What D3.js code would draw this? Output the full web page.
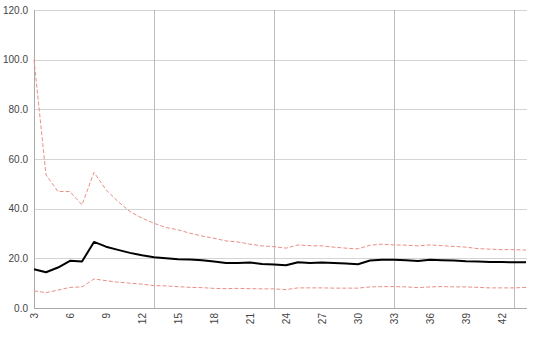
<!DOCTYPE html>
<html>
<head>
<meta charset="utf-8">
<script src="https://cdn.jsdelivr.net/npm/d3@7"></script>
<style>
  body { margin: 0; background: #fff; }
  #chart text { font-family: "Liberation Sans", Arial, sans-serif; font-size: 10px; fill: #444; }
</style>
</head>
<body>
<div id="chart"></div>
<script>
// categories 3..44
const categories = [3,4,5,6,7,8,9,10,11,12,13,14,15,16,17,18,19,20,21,22,23,24,25,26,27,28,29,30,31,32,33,34,35,36,37,38,39,40,41,42,43,44];

// mean (black line)
const meanValues = [15.6,14.4,16.3,19.0,18.7,26.6,24.7,23.4,22.2,21.2,20.4,20.0,19.6,19.5,19.2,18.7,18.1,18.1,
  18.3,17.7,17.5,17.2,18.4,18.1,18.3,18.1,17.9,17.6,19.1,19.4,19.4,19.2,18.9,19.4,19.2,19.1,18.8,18.7,18.5,18.5,18.4,18.4];

// upper bound (red dashed)
const upperValues = [100.0,53.6,46.9,46.9,41.5,54.6,47.6,42.9,38.8,36.2,34.1,32.4,31.5,30.1,29.0,28.1,27.0,26.6,
  25.7,25.0,24.7,24.1,25.4,25.1,25.0,24.5,24.1,23.8,25.3,25.7,25.4,25.3,25.0,25.4,25.1,24.8,24.5,23.9,23.7,23.5,23.5,23.3];

// lower bound (red dashed)
const lowerValues = [6.9,6.2,7.2,8.3,8.5,11.7,11.0,10.4,10.0,9.6,9.0,8.9,8.6,8.3,8.2,7.9,7.8,7.9,
  7.8,7.7,7.7,7.4,8.1,8.1,8.1,8.0,8.0,8.0,8.5,8.6,8.6,8.5,8.2,8.5,8.6,8.5,8.5,8.3,8.1,8.1,8.1,8.3];

const yTicks = [0, 20, 40, 60, 80, 100, 120];
const xLabelTicks = [3,6,9,12,15,18,21,24,27,30,33,36,39,42];
const xGridTicks = [13, 23, 33, 43];

const W = 533, H = 340;
const plotLeft = 34, plotRight = 527, plotTop = 10, plotBottom = 308;

const svg = d3.select("#chart").append("svg")
  .attr("width", W)
  .attr("height", H);

const x = d3.scaleLinear()
  .domain([categories[0], categories[categories.length - 1]])
  .range([plotLeft, plotRight - 1]);

const y = d3.scaleLinear()
  .domain([0, 120])
  .range([plotBottom, plotTop]);

// horizontal grid
svg.append("g")
  .selectAll("line")
  .data(yTicks)
  .enter()
  .append("line")
  .attr("x1", plotLeft)
  .attr("x2", plotRight)
  .attr("y1", d => Math.round(y(d)) + 0.5)
  .attr("y2", d => Math.round(y(d)) + 0.5)
  .attr("stroke", "#d4d4d4");

// vertical grid
svg.append("g")
  .selectAll("line")
  .data(xGridTicks)
  .enter()
  .append("line")
  .attr("x1", d => Math.round(x(d)) + 0.5)
  .attr("x2", d => Math.round(x(d)) + 0.5)
  .attr("y1", plotTop)
  .attr("y2", plotBottom)
  .attr("stroke", "#bdbdbd");

// axes lines
svg.append("line")
  .attr("x1", plotLeft + 0.5).attr("x2", plotLeft + 0.5)
  .attr("y1", plotTop).attr("y2", plotBottom)
  .attr("stroke", "#aaa");

svg.append("line")
  .attr("x1", plotLeft).attr("x2", plotRight)
  .attr("y1", plotBottom + 0.5).attr("y2", plotBottom + 0.5)
  .attr("stroke", "#aaa");

// y labels
svg.append("g")
  .selectAll("text")
  .data(yTicks)
  .enter()
  .append("text")
  .attr("x", plotLeft - 6)
  .attr("y", d => y(d))
  .attr("dy", "0.35em")
  .attr("text-anchor", "end")
  .text(d => d.toFixed(1));

// x labels (rotated)
svg.append("g")
  .selectAll("text")
  .data(xLabelTicks)
  .enter()
  .append("text")
  .attr("transform", d => `translate(${x(d)}, ${plotBottom + 5}) rotate(-90)`)
  .attr("dy", "0.35em")
  .attr("text-anchor", "end")
  .text(d => d);

const line = d3.line()
  .x((d, i) => x(categories[i]))
  .y(d => y(d));

svg.append("path")
  .datum(upperValues)
  .attr("fill", "none")
  .attr("stroke", "#e8908a")
  .attr("stroke-width", 1)
  .attr("stroke-dasharray", "4,2")
  .attr("d", line);

svg.append("path")
  .datum(lowerValues)
  .attr("fill", "none")
  .attr("stroke", "#e8908a")
  .attr("stroke-width", 1)
  .attr("stroke-dasharray", "4,2")
  .attr("d", line);

svg.append("path")
  .datum(meanValues)
  .attr("fill", "none")
  .attr("stroke", "#000")
  .attr("stroke-width", 2)
  .attr("stroke-linejoin", "round")
  .attr("d", line);
</script>
</body>
</html>
